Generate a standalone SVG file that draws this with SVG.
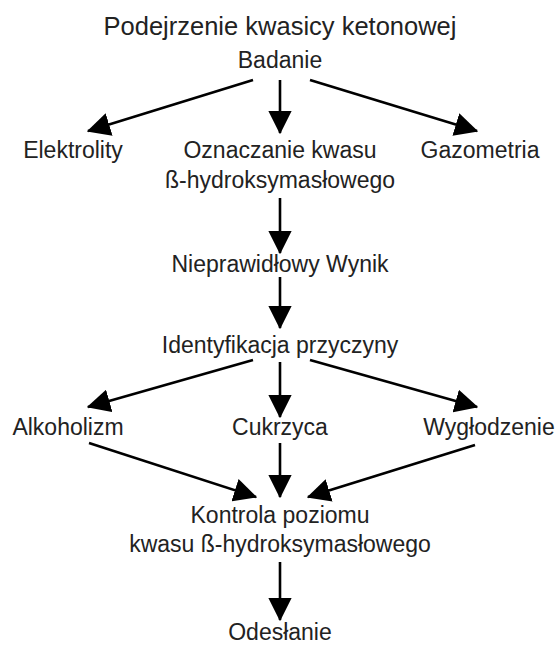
<svg xmlns="http://www.w3.org/2000/svg" width="557" height="646" viewBox="0 0 557 646">
<defs>
<marker id="ah" markerWidth="9" markerHeight="9" refX="8.5" refY="4.5" orient="auto" markerUnits="strokeWidth">
<path d="M0,0 L9,4.5 L0,9 Z" fill="#000"/>
</marker>
<style>
text{font-family:"Liberation Sans",Arial,sans-serif;font-size:23px;fill:#222;text-anchor:middle}
.t{font-size:25.5px}
.c line{stroke:#000;stroke-width:2.6;marker-end:url(#ah)}
</style>
</defs>
<rect width="557" height="646" fill="#fff"/>
<g id="title"><text class="t" x="280" y="35">Podejrzenie kwasicy ketonowej</text></g>
<g id="badanie"><text x="280" y="68">Badanie</text></g>
<g id="elektrolity"><text x="73" y="158">Elektrolity</text></g>
<g id="oznaczanie"><text x="280" y="158">Oznaczanie kwasu</text><text x="280" y="188">ß-hydroksymasłowego</text></g>
<g id="gazometria"><text x="480" y="158">Gazometria</text></g>
<g id="nieprawidlowy"><text x="280" y="272">Nieprawidłowy Wynik</text></g>
<g id="identyfikacja"><text x="280" y="353">Identyfikacja przyczyny</text></g>
<g id="alkoholizm"><text x="68" y="435">Alkoholizm</text></g>
<g id="cukrzyca"><text x="280" y="435">Cukrzyca</text></g>
<g id="wyglodzenie"><text x="489" y="435">Wygłodzenie</text></g>
<g id="kontrola"><text x="280" y="523">Kontrola poziomu</text><text x="280" y="552">kwasu ß-hydroksymasłowego</text></g>
<g id="odeslanie"><text x="280" y="640">Odesłanie</text></g>
<g class="c" id="connectors">
<line x1="253" y1="80" x2="88" y2="131"/>
<line x1="280" y1="80" x2="280" y2="133"/>
<line x1="310" y1="80" x2="477" y2="131"/>
<line x1="280" y1="198" x2="280" y2="253"/>
<line x1="280" y1="277" x2="280" y2="328"/>
<line x1="253" y1="360" x2="88" y2="407"/>
<line x1="280" y1="362" x2="280" y2="417"/>
<line x1="310" y1="360" x2="477" y2="407"/>
<line x1="89" y1="443" x2="256" y2="497"/>
<line x1="280" y1="443" x2="280" y2="497"/>
<line x1="475" y1="445" x2="308" y2="497"/>
<line x1="280" y1="562" x2="280" y2="620"/>
</g>
</svg>
